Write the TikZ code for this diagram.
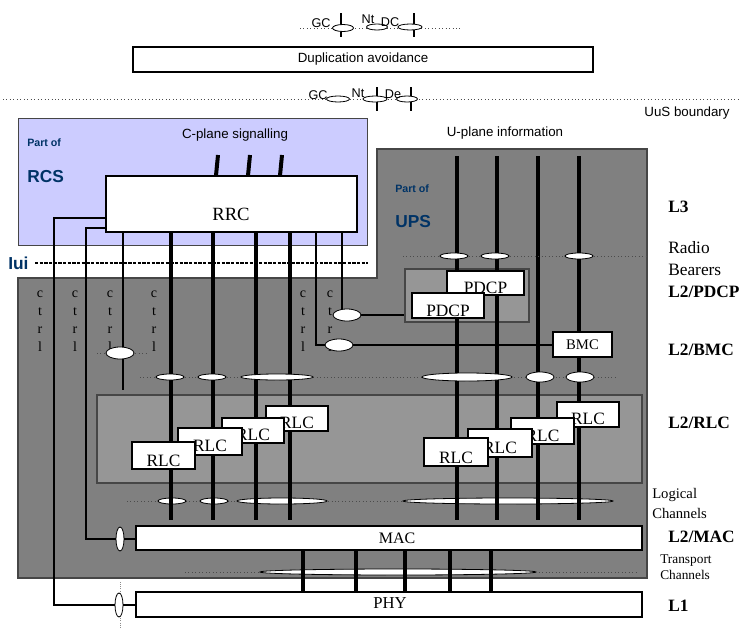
\documentclass[tikz,border=0pt]{standalone}
\usepackage{fontspec}
\setmainfont{Liberation Serif}
\newfontfamily\ffsans{Liberation Sans}
\usetikzlibrary{shapes.geometric,fit}
\pgfdeclarelayer{bg}
\pgfdeclarelayer{lines}
\pgfsetlayers{bg,lines,main}
\definecolor{rcsfill}{RGB}{204,204,255}
\definecolor{midgray}{RGB}{128,128,128}
\definecolor{ltgray}{RGB}{150,150,150}
\definecolor{edgegray}{RGB}{70,70,70}
\definecolor{navy}{RGB}{0,51,102}
\begin{document}
\begin{tikzpicture}[x=0.75pt,y=-0.75pt,
  wbox/.style={draw=black, fill=white, line width=0.8pt, inner sep=0pt},
  gbox/.style={draw=edgegray, fill=ltgray, line width=0.8pt, inner sep=0pt},
  ell/.style={ellipse, draw=black, fill=white, line width=0.6pt, inner sep=0pt},
  thk/.style={line width=3pt},
  thn/.style={line width=0.8pt},
  dotln/.style={dotted, line width=0.6pt, draw=black!70},
  sanstxt/.style={font=\ffsans\fontsize{10}{12}\selectfont, inner sep=0pt},
  smalls/.style={font=\ffsans\fontsize{9.5}{10}\selectfont, inner sep=0pt},
  btxt/.style={font=\fontsize{13}{15}\selectfont, inner sep=0pt},
  lvl/.style={anchor=west, inner sep=0pt, font=\bfseries\fontsize{13}{15}\selectfont},
  lvlr/.style={anchor=west, inner sep=0pt, align=left},
  navys/.style={text=navy, anchor=west, inner sep=0pt, font=\ffsans\bfseries\fontsize{8}{10}\selectfont},
  navyb/.style={text=navy, anchor=west, inner sep=0pt, font=\ffsans\bfseries\fontsize{13}{15}\selectfont},
  ctrltxt/.style={anchor=base, inner sep=0pt, font=\fontsize{10.5}{12}\selectfont},
]
\useasboundingbox (0,0) rectangle (741,628);

% ---------------- background layer
\begin{pgfonlayer}{bg}
\node[draw=edgegray, fill=rcsfill, line width=0.6pt, inner sep=0pt, fit={(18,118) (367,245)}] (rcs) {};
\filldraw[fill=midgray, draw=edgegray, line width=0.8pt] (18,278) -- (377,278) -- (377,149) -- (647,149) -- (647,578) -- (18,578) -- cycle;
\node[gbox, fit={(405,269) (529,322)}] (pdcparea) {};
\node[gbox, fit={(97,395) (642,483)}] (rlcarea) {};
\draw[dotln] (127,501) -- (612,501);
\draw[dotln] (185,572) -- (638,572);
\node[ell, minimum width=21pt, minimum height=4.5pt] (el1) at (172,501) {};
\node[ell, minimum width=21pt, minimum height=4.5pt] (el2) at (214,501) {};
\node[ell, minimum width=67.5pt, minimum height=4.5pt] (el3) at (282,501) {};
\node[ell, minimum width=157.5pt, minimum height=4.5pt] (el4) at (508,501) {};
\node[ell, minimum width=207pt, minimum height=4.5pt] (etr) at (398,572) {};
\end{pgfonlayer}

% ---------------- boxes
\node[wbox, fit={(133,47) (593,72)}] (dup) {};
\node[sanstxt] (duptxt) at (dup.center) {Duplication avoidance};

\node[wbox, fit={(106,176) (357,232)}] (rrc) {};
\node[btxt, font=\fontsize{14}{16}\selectfont] (rrctxt) at (231,214) {RRC};

\node[wbox, fit={(447,271) (524,295)}] (pdcp2) {};
\node[btxt] (pdcp2txt) at (485.5,288) {PDCP};
\node[wbox, fit={(412,293) (484,318)}] (pdcp1) {};
\node[btxt] (pdcp1txt) at (448,311) {PDCP};

\node[wbox, fit={(553,332) (612,357)}] (bmc) {};
\node[btxt, font=\fontsize{11}{13}\selectfont] (bmctxt) at (bmc.center) {BMC};

% left RLC stack (back to front)
\node[wbox, fit={(266,406) (328,431)}] (rlc4) {};
\node[btxt] (rlc4txt) at (297,423) {RLC};
\node[wbox, fit={(222,418) (284,443)}] (rlc3) {};
\node[btxt] (rlc3txt) at (253,435) {RLC};
\node[wbox, fit={(178,428) (242,455)}] (rlc2) {};
\node[btxt] (rlc2txt) at (210,446) {RLC};
\node[wbox, fit={(132,442) (195,469)}] (rlc1) {};
\node[btxt] (rlc1txt) at (163.5,461) {RLC};
% right RLC stack
\node[wbox, fit={(557,402) (619,427)}] (rlc8) {};
\node[btxt] (rlc8txt) at (588,419) {RLC};
\node[wbox, fit={(511,418) (574,444)}] (rlc7) {};
\node[btxt] (rlc7txt) at (542.5,436) {RLC};
\node[wbox, fit={(468,429) (532,457)}] (rlc6) {};
\node[btxt] (rlc6txt) at (500,448) {RLC};
\node[wbox, fit={(424,438) (488,466)}] (rlc5) {};
\node[btxt] (rlc5txt) at (456,457.5) {RLC};

\node[wbox, fit={(136,526) (642,550)}] (mac) {};
\node[btxt, font=\fontsize{12}{14}\selectfont] (mactxt) at (397,538) {MAC};
\node[wbox, fit={(136,592) (642,617)}] (phy) {};
\node[btxt, font=\fontsize{12.5}{14}\selectfont] (phytxt) at (390,603) {PHY};

% ctrl labels
\foreach \x in {40,75,110,154,303,330}{
  \foreach \l/\y in {c/297,t/315,r/333,l/351}{
    \node[ctrltxt] (ct-\x-\l) at (\x,\y) {\l};
  }
}

% ---------------- ellipses
\node[ell, minimum width=15.75pt, minimum height=5.25pt] (et1) at (343,28) {};
\node[ell, minimum width=15.75pt, minimum height=4.5pt] (et2) at (377,27) {};
\node[ell, minimum width=18pt, minimum height=4.5pt] (et3) at (410,27) {};
\node[ell, minimum width=17.25pt, minimum height=4.5pt] (eb1) at (338,99) {};
\node[ell, minimum width=18pt, minimum height=4.5pt] (eb2) at (375,99) {};
\node[ell, minimum width=15.75pt, minimum height=4.5pt] (eb3) at (407,99) {};

\node[ell, minimum width=21pt, minimum height=4.5pt] (er1) at (454,256) {};
\node[ell, minimum width=21pt, minimum height=4.5pt] (er2) at (495,256) {};
\node[ell, minimum width=21pt, minimum height=4.5pt] (er3) at (579,256) {};

\node[ell, minimum width=21pt, minimum height=4.5pt] (em1) at (170,377) {};
\node[ell, minimum width=21pt, minimum height=4.5pt] (em2) at (212,377) {};
\node[ell, minimum width=54pt, minimum height=4.5pt] (em3) at (277,377) {};
\node[ell, minimum width=67.5pt, minimum height=6pt] (em4) at (467,377) {};
\node[ell, minimum width=21pt, minimum height=7.5pt] (em5) at (540,377) {};
\node[ell, minimum width=21pt, minimum height=7.5pt] (em6) at (580,377) {};

\node[ell, minimum width=21pt, minimum height=9pt] (ec0) at (120,353) {};
\node[ell, minimum width=21pt, minimum height=9pt] (ec6) at (347,315) {};
\node[ell, minimum width=21pt, minimum height=9pt] (ec5) at (339,345) {};

\node[ell, minimum width=6pt, minimum height=18pt] (emac) at (120,539) {};
\node[ell, minimum width=6pt, minimum height=18pt] (ephy) at (119,605) {};

% ---------------- texts
\node[smalls] (gc1) at (321,23) {GC};
\node[smalls] (nt1) at (368,19) {Nt};
\node[smalls] (dc1) at (390,22) {DC};
\node[smalls] (gc2) at (318,95) {GC};
\node[smalls] (nt2) at (358,93) {Nt};
\node[smalls] (de2) at (393,94) {De};
\node[sanstxt] (uus) at (687,113) {UuS boundary};
\node[sanstxt] (cplane) at (235,135) {C-plane signalling};
\node[sanstxt] (uplane) at (505,133) {U-plane information};
\node[navys] (partrcs) at (27,143) {Part of};
\node[navyb] (rcstxt) at (27,177) {RCS};
\node[navys] (partups) at (395,189) {Part of};
\node[navyb] (upstxt) at (395,222) {UPS};
\node[navyb] (iui) at (8,263) {Iui};

\node[lvl] (l3) at (668,207) {L3};
\node[lvlr, font=\fontsize{13}{16.5}\selectfont] (rb) at (668,259) {Radio\\Bearers};
\node[lvl] (l2pdcp) at (668,292) {L2/PDCP};
\node[lvl] (l2bmc) at (668,350) {L2/BMC};
\node[lvl] (l2rlc) at (668,423) {L2/RLC};
\node[lvlr, font=\fontsize{11}{15}\selectfont] (logch) at (652,503) {Logical\\Channels};
\node[lvl] (l2mac) at (668,537) {L2/MAC};
\node[lvlr, font=\fontsize{10}{12}\selectfont] (trch) at (660,567) {Transport\\Channels};
\node[lvl] (l1) at (668,606) {L1};

% ---------------- coordinates
\coordinate (c0) at (123,390);
\coordinate (c1) at (171,520);
\coordinate (c2) at (213,520);
\coordinate (c3) at (256,520);
\coordinate (c4) at (290,520);
\coordinate (c5) at (316,345);
\coordinate (c6) at (342,315);
\coordinate (k1) at (54,218);
\coordinate (k2) at (86,228);
\coordinate (utop) at (0,156);
\coordinate (u1) at (457,520);
\coordinate (u2) at (497,520);
\coordinate (u3) at (538,520);
\coordinate (u4) at (579,520);
\coordinate (s1) at (218,155);
\coordinate (s2) at (250,155);
\coordinate (s3) at (282,155);
\coordinate (t1) at (303,0);
\coordinate (t2) at (356,0);
\coordinate (t3) at (405,0);
\coordinate (t4) at (450,0);
\coordinate (t5) at (491,0);

% ---------------- lines layer
\begin{pgfonlayer}{lines}
\draw[dotln] (300,28) -- (462,28);
\draw[thn] (341,13) -- (341,37);
\draw[thn] (414,13) -- (414,37);
\draw[dotln] (3,99) -- (741,99);
\draw[thn] (377,87) -- (377,111);
\draw[thn] (411,87) -- (411,111);

\foreach \s in {s1,s2,s3}
  \draw[thk] (\s) -- ([xshift=-1.5pt]\s |- rrc.north);

\draw[line width=1.8pt, dash pattern=on 2.4pt off 1.1pt] (35,263) -- (368,263);

\draw[thn] (c0 |- rrc.south) -- (c0);
\draw[dotln] (97,353) -- (146,353);
\foreach \c in {c1,c2,c3,c4}
  \draw[thk] (\c |- rrc.south) -- (\c);
\draw[thn] (c5 |- rrc.south) -- (c5) -- (ec5.center);
\draw[thn] (ec5.center) -- (bmc.west |- ec5);
\draw[thn] (c6 |- rrc.south) -- (c6);
\draw[thn] (ec6.center) -- (pdcparea.west |- ec6);

\draw[thn] (k1 -| rrc.west) -- (k1) |- (ephy.center);
\draw[thn] (ephy.center) -- (phy.west |- ephy);
\draw[thn] (k2 -| rrc.west) -- (k2) |- (emac.center);
\draw[thn] (emac.center) -- (mac.west |- emac);
\draw[densely dotted, line width=0.6pt, draw=black!45] (120,582) -- (120,627);

\foreach \u in {u1,u2,u3,u4}
  \draw[thk] (\u |- utop) -- (\u);

\draw[dotln] (403,256) -- (649,256);
\draw[dotln] (140,377) -- (617,377);

\foreach \t in {t1,t2,t3,t4,t5}
  \draw[thk] (\t |- mac.south) -- (\t |- phy.north);
\end{pgfonlayer}
\end{tikzpicture}
\end{document}
